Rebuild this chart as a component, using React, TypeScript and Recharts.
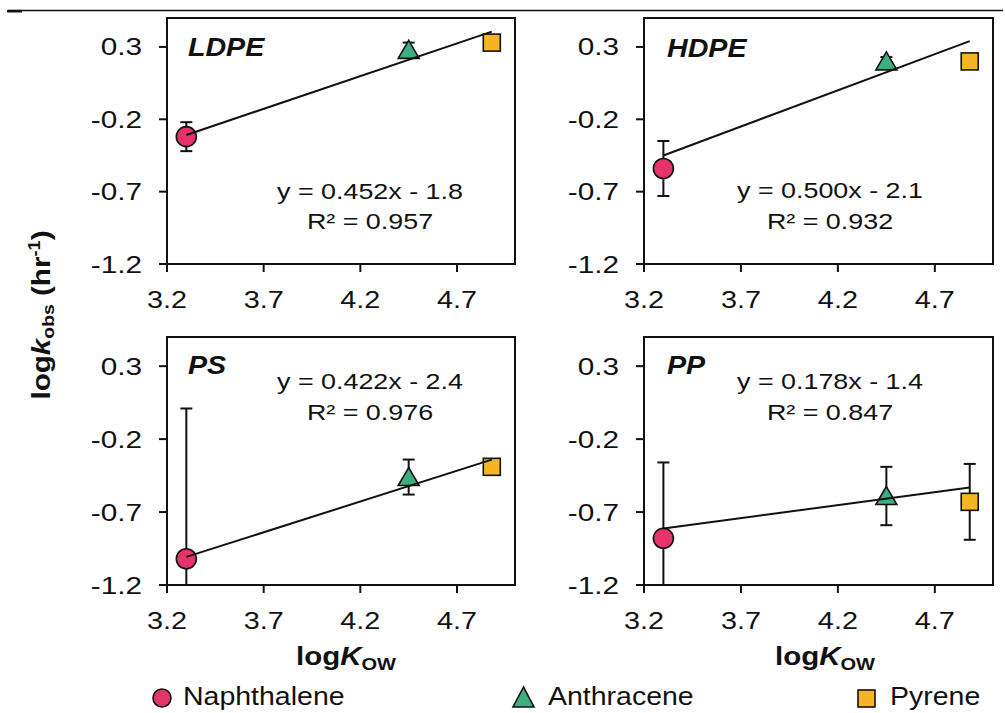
import React from "react";
import { ScatterChart, Scatter, XAxis, YAxis, ErrorBar, ReferenceArea } from "recharts";

// compounds and their octanol-water partition coefficients
const COMPOUNDS = ["Naphthalene", "Anthracene", "Pyrene"];
const LOG_KOW = [3.3, 4.45, 4.88];

// observed rate constants (log k, hr^-1) and error per polymer
const POLYMERS = ["LDPE", "HDPE", "PS", "PP"];
const LDPE_K = [-0.32, 0.28, 0.33];
const LDPE_ERR = [0.1, 0.05, 0.02];
const HDPE_K = [-0.54, 0.2, 0.2];
const HDPE_ERR = [0.19, 0.03, 0.02];
const PS_K = [-1.02, -0.46, -0.39];
const PS_ERR = [1.03, 0.12, 0.03];
const PP_K = [-0.88, -0.59, -0.63];
const PP_ERR = [0.52, 0.2, 0.26];

// linear fits
const SLOPES = [0.452, 0.5, 0.422, 0.178];
const INTERCEPTS = [-1.8, -2.1, -2.4, -1.4];
const R2 = [0.957, 0.932, 0.976, 0.847];

const X_TICKS = [3.2, 3.7, 4.2, 4.7];
const Y_TICKS = [-1.2, -0.7, -0.2, 0.3];
const X_DOMAIN = [3.2, 5.0];
const Y_DOMAIN = [-1.2, 0.5];

const K_ALL = [LDPE_K, HDPE_K, PS_K, PP_K];
const ERR_ALL = [LDPE_ERR, HDPE_ERR, PS_ERR, PP_ERR];

const FONT = "'Liberation Sans', Arial, Helvetica, sans-serif";
const INK = "#111";
const COLORS = ["#e6336a", "#3dae7f", "#f6b623"];

const Y_W = 110;
const M_T = 10;
const M_R = 10;
const X_H = 60;

// panel placement: plot-area left/top and size, equation centre/baselines
const LAYOUT = [
  { left: 167, top: 18, w: 348, h: 246, eqX: 370, eqY: [199, 229], titleX: 188, titleY: 56 },
  { left: 644, top: 18, w: 349, h: 246, eqX: 830, eqY: [198, 229], titleX: 667, titleY: 57 },
  { left: 167, top: 337, w: 348, h: 248, eqX: 370, eqY: [389, 420], titleX: 188, titleY: 374 },
  { left: 644, top: 337, w: 349, h: 248, eqX: 830, eqY: [389, 420], titleX: 667, titleY: 374 },
];

const axisStyle = { stroke: INK, strokeWidth: 2 };

function WideText({
  x, y, size, anchor = "start", sx = 1.2, weight = "normal", italic = false, rotate = 0, children,
}: any) {
  return (
    <text
      transform={`translate(${x} ${y}) rotate(${rotate}) scale(${sx} 1)`}
      fontSize={size}
      fontFamily={FONT}
      fontWeight={weight}
      fontStyle={italic ? "italic" : "normal"}
      textAnchor={anchor}
      fill={INK}
    >
      {children}
    </text>
  );
}

function CircleMark({ cx, cy, r = 10 }: any) {
  return <circle cx={cx} cy={cy} r={r} fill={COLORS[0]} stroke={INK} strokeWidth={1.6} />;
}

function TriangleMark({ cx, cy, w = 21, h = 17 }: any) {
  const pts = `${cx},${cy - h / 2 - 1} ${cx - w / 2},${cy + h / 2} ${cx + w / 2},${cy + h / 2}`;
  return <polygon points={pts} fill={COLORS[1]} stroke={INK} strokeWidth={1.6} strokeLinejoin="miter" />;
}

function SquareMark({ cx, cy, s = 17 }: any) {
  return <rect x={cx - s / 2} y={cy - s / 2} width={s} height={s} fill={COLORS[2]} stroke={INK} strokeWidth={1.6} />;
}

const SHAPES = [CircleMark, TriangleMark, SquareMark];

// error as [lower, upper]; an arm never runs past the ends of the y axis
const errRange = (y: number, e: number) => [
  Math.min(e, y - Y_DOMAIN[0]),
  Math.min(e, Y_DOMAIN[1] - y),
];

function Panel({ idx }: { idx: number }) {
  const L = LAYOUT[idx];
  const W = Y_W + L.w + M_R;
  const H = M_T + L.h + X_H;
  const k = K_ALL[idx];
  const err = ERR_ALL[idx];
  const fit = [LOG_KOW[0], LOG_KOW[LOG_KOW.length - 1]].map((x) => ({
    x,
    y: SLOPES[idx] * x + INTERCEPTS[idx],
  }));

  const xTick = (p: any) => (
    <WideText x={p.x} y={M_T + L.h + 44} size={24} sx={1.2} anchor="middle">
      {Number(p.payload.value).toFixed(1)}
    </WideText>
  );
  const yTick = (p: any) => (
    <WideText x={Y_W - 25} y={p.y + 8.5} size={24} sx={1.24} anchor="end">
      {Number(p.payload.value).toFixed(1)}
    </WideText>
  );

  return (
    <div style={{ position: "absolute", left: L.left - Y_W, top: L.top - M_T }}>
      <ScatterChart width={W} height={H} margin={{ top: M_T, right: M_R, bottom: 0, left: 0 }}>
        <XAxis
          type="number"
          dataKey="x"
          domain={X_DOMAIN}
          ticks={X_TICKS}
          allowDataOverflow
          height={X_H}
          tickSize={8}
          tickMargin={0}
          axisLine={axisStyle}
          tickLine={axisStyle}
          tick={xTick}
        />
        <YAxis
          type="number"
          dataKey="y"
          domain={Y_DOMAIN}
          ticks={Y_TICKS}
          allowDataOverflow
          width={Y_W}
          tickSize={8}
          tickMargin={0}
          axisLine={axisStyle}
          tickLine={axisStyle}
          tick={yTick}
        />
        <ReferenceArea
          x1={X_DOMAIN[0]}
          x2={X_DOMAIN[1]}
          y1={Y_DOMAIN[0]}
          y2={Y_DOMAIN[1]}
          fill="none"
          stroke={INK}
          strokeWidth={2}
        />
        {COMPOUNDS.map((name, i) => {
          const Shape = SHAPES[i];
          return (
            <Scatter
              key={name}
              name={name}
              data={[{ x: LOG_KOW[i], y: k[i], err: errRange(k[i], err[i]) }]}
              shape={(p: any) => <Shape cx={p.cx} cy={p.cy} />}
              isAnimationActive={false}
            >
              <ErrorBar dataKey="err" direction="y" width={6} stroke={INK} strokeWidth={2} />
            </Scatter>
          );
        })}
        <Scatter
          name="fit"
          data={fit}
          line={{ stroke: INK, strokeWidth: 2 }}
          shape={() => <g />}
          isAnimationActive={false}
        />
      </ScatterChart>
    </div>
  );
}

export default function App() {
  return (
    <div
      style={{
        position: "absolute",
        left: 0,
        top: 0,
        width: 1005,
        height: 713,
        background: "#fff",
        overflow: "hidden",
      }}
    >
      {POLYMERS.map((p, i) => (
        <Panel key={p} idx={i} />
      ))}
      <svg
        width={1005}
        height={713}
        style={{ position: "absolute", left: 0, top: 0, pointerEvents: "none" }}
      >
        <line x1={8} x2={1003} y1={10.5} y2={10.5} stroke={INK} strokeWidth={1.3} />
        <line x1={7} x2={22} y1={11.2} y2={11.2} stroke={INK} strokeWidth={2.6} />

        {POLYMERS.map((p, i) => {
          const L = LAYOUT[i];
          return (
            <g key={p}>
              <WideText x={L.titleX} y={L.titleY} size={26} sx={1.1} weight="bold" italic>
                {p}
              </WideText>
              <WideText x={L.eqX} y={L.eqY[0]} size={21.5} sx={1.25} anchor="middle">
                {`y = ${SLOPES[i].toFixed(3)}x - ${Math.abs(INTERCEPTS[i]).toFixed(1)}`}
              </WideText>
              <WideText x={L.eqX} y={L.eqY[1]} size={21.5} sx={1.25} anchor="middle">
                {`R\u00b2 = ${R2[i].toFixed(3)}`}
              </WideText>
            </g>
          );
        })}

        {/* y-axis title */}
        <WideText x={50} y={315} size={26} sx={1.14} weight="bold" anchor="middle" rotate={-90}>
          log<tspan fontStyle="italic">k</tspan>
          <tspan fontSize={17} dy={4}>obs</tspan>
          <tspan dy={-4}> (hr</tspan>
          <tspan fontSize={16} dy={-10}>-1</tspan>
          <tspan dy={10}>)</tspan>
        </WideText>

        {/* x-axis titles under the bottom row */}
        {[346, 825].map((cx) => (
          <WideText key={cx} x={cx} y={665} size={25} sx={1.18} weight="bold" anchor="middle">
            log<tspan fontStyle="italic">K</tspan>
            <tspan fontSize={17} dy={5}>OW</tspan>
          </WideText>
        ))}

        {/* legend */}
        <CircleMark cx={162} cy={698} r={9} />
        <WideText x={183} y={705} size={25} sx={1.14}>{COMPOUNDS[0]}</WideText>
        <TriangleMark cx={523.5} cy={697.5} w={21} h={19} />
        <WideText x={548} y={705} size={25} sx={1.14}>{COMPOUNDS[1]}</WideText>
        <SquareMark cx={866.5} cy={698.5} s={17} />
        <WideText x={890} y={705} size={25} sx={1.14}>{COMPOUNDS[2]}</WideText>
      </svg>
    </div>
  );
}
